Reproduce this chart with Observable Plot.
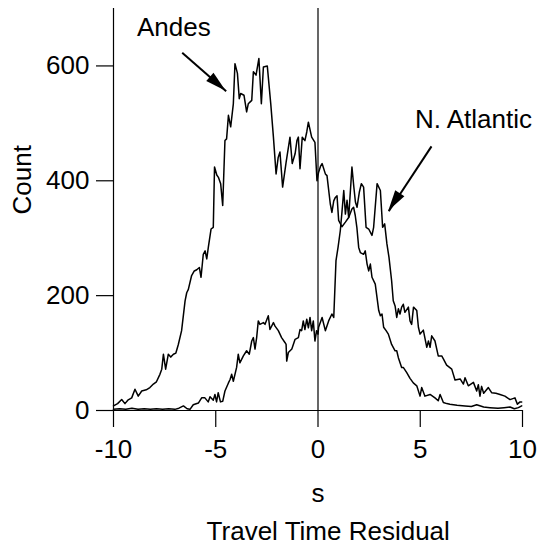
<!DOCTYPE html>
<html>
<head>
<meta charset="utf-8">
<script src="https://cdn.jsdelivr.net/npm/d3@7"></script>
<script src="https://cdn.jsdelivr.net/npm/@observablehq/plot@0.6"></script>
<style>
  html, body { margin: 0; padding: 0; background: #fff; }
</style>
</head>
<body>
<div id="chart"></div>
<script>
// Tick values
const xTicks = [-10, -5, 0, 5, 10];
const yTicks = [0, 200, 400, 600];
const seriesNames = ["Andes", "N. Atlantic"];

// Andes histogram (travel time residual, s  -> count)
const andesX = [-10.0,-9.8,-9.6,-9.44,-9.3,-9.11,-8.95,-8.79,-8.62,-8.4,-8.22,-8.05,-7.9,-7.73,-7.64,-7.56,-7.45,-7.32,-7.2,-7.07,-6.95,-6.83,-6.67,-6.5,-6.42,-6.34,-6.18,-6.05,-5.93,-5.8,-5.72,-5.61,-5.52,-5.44,-5.36,-5.23,-5.12,-5.06,-4.95,-4.87,-4.76,-4.66,-4.55,-4.47,-4.38,-4.27,-4.14,-4.06,-3.94,-3.85,-3.78,-3.62,-3.49,-3.41,-3.24,-3.16,-3.03,-2.89,-2.77,-2.67,-2.48,-2.31,-2.18,-2.05,-1.95,-1.86,-1.73,-1.56,-1.37,-1.26,-1.12,-1.03,-0.96,-0.88,-0.77,-0.64,-0.55,-0.47,-0.31,-0.15,-0.05,0.03,0.12,0.2,0.36,0.44,0.6,0.68,0.77,0.85,0.93,1.01,1.17,1.34,1.5,1.66,1.74,1.82,1.9,1.99,2.07,2.23,2.31,2.4,2.48,2.56,2.64,2.8,2.97,3.05,3.13,3.21,3.33,3.44,3.6,3.77,3.85,3.93,4.09,4.17,4.34,4.5,4.66,4.83,4.99,5.07,5.23,5.48,5.72,5.88,5.97,6.13,6.3,6.45,6.8,7.19,7.5,7.76,8.1,8.41,8.8,9.1,9.39,9.6,9.8,9.96];
const andesY = [8,12,19,12,18,22,37,25,34,36,40,46,50,63,72,98,72,98,93,98,100,115,139,191,205,211,235,243,245,249,232,272,278,264,285,316,319,424,410,406,395,357,470,473,514,494,534,604,587,543,552,549,520,534,540,590,584,613,534,598,600,534,476,412,440,450,389,432,476,430,447,470,476,421,476,470,485,502,476,467,400,415,425,430,412,409,360,345,365,371,374,331,320,328,336,351,354,340,319,284,275,272,278,255,243,255,232,220,174,165,168,145,139,133,115,104,104,92,75,75,66,56,48,43,25,40,25,28,22,17,28,14,12,11,9,8,7,10,6,5,4,5,6,3,5,8];

// N. Atlantic histogram
const atlX = [-10.0,-9.7,-9.4,-9.1,-8.8,-8.5,-8.2,-7.9,-7.6,-7.3,-7.0,-6.8,-6.58,-6.4,-6.26,-6.1,-5.85,-5.69,-5.53,-5.37,-5.28,-5.12,-5.04,-4.96,-4.88,-4.77,-4.66,-4.55,-4.38,-4.3,-4.22,-4.14,-3.98,-3.9,-3.82,-3.65,-3.49,-3.36,-3.24,-3.16,-3.08,-3.0,-2.92,-2.84,-2.67,-2.59,-2.43,-2.35,-2.18,-2.1,-1.94,-1.78,-1.61,-1.56,-1.53,-1.45,-1.28,-1.12,-0.96,-0.88,-0.8,-0.72,-0.64,-0.55,-0.47,-0.39,-0.31,-0.23,-0.15,-0.07,0.0,0.03,0.2,0.36,0.52,0.68,0.77,0.88,0.98,1.09,1.17,1.26,1.34,1.42,1.5,1.66,1.75,1.83,1.91,2.02,2.12,2.23,2.35,2.48,2.64,2.72,2.89,3.05,3.16,3.26,3.37,3.47,3.6,3.68,3.77,3.85,3.93,4.01,4.09,4.17,4.25,4.42,4.5,4.58,4.67,4.83,4.91,4.99,5.15,5.32,5.4,5.48,5.56,5.72,5.88,6.05,6.13,6.29,6.54,6.7,6.95,7.11,7.19,7.35,7.6,7.76,7.84,7.92,8.0,8.1,8.33,8.49,8.7,8.9,9.14,9.39,9.63,9.75,9.88,9.96];
const atlY = [2,3,2,4,2,3,2,3,2,3,2,4,8,3,2,10,13,22,22,15,24,18,28,15,31,15,16,34,48,54,63,51,75,98,83,95,104,98,121,127,107,127,156,150,153,150,165,141,153,147,139,127,118,115,86,101,107,124,127,141,139,156,141,159,144,162,139,156,121,139,133,145,162,139,156,168,162,261,284,313,345,383,342,366,336,424,390,363,354,380,395,389,319,316,305,319,395,383,319,325,290,267,226,191,182,162,177,168,180,185,171,180,156,150,180,174,145,133,140,110,121,110,130,121,95,95,90,79,72,53,55,46,57,43,49,34,45,25,42,30,40,31,30,28,25,19,22,11,15,15];

const andes = andesX.map((x, i) => ({x, y: andesY[i], series: seriesNames[0]}));
const atl = atlX.map((x, i) => ({x, y: atlY[i], series: seriesNames[1]}));

// Annotation arrows (data units): tail -> tip
const arrows = [
  {x1: -6.64, y1: 623, x2: -4.49, y2: 556},
  {x1: 5.55, y1: 460, x2: 3.46, y2: 347}
];
const labels = [
  {text: seriesNames[0], x: -8.85, y: 684},
  {text: seriesNames[1], x: 4.74, y: 524}
];

const font = "'Liberation Sans', Arial, Helvetica, sans-serif";
const fmt = d => String(d);

const plot = Plot.plot({
  width: 538,
  height: 546,
  marginLeft: 113,
  marginRight: 16,
  marginTop: 8,
  marginBottom: 136,
  style: {fontFamily: font, fontSize: "25px", color: "black", background: "white", overflow: "visible"},
  x: {domain: [-10, 10]},
  y: {domain: [0, 700]},
  marks: [
    Plot.axisX({ticks: xTicks, tickSize: 17, tickPadding: 12, tickFormat: fmt, label: null, fontSize: 26, strokeWidth: 1.2}),
    Plot.axisY({ticks: yTicks, tickSize: 17, tickPadding: 7, tickFormat: fmt, label: null, fontSize: 26, strokeWidth: 1.2}),
    Plot.ruleY([0], {stroke: "black", strokeWidth: 1.2}),
    Plot.ruleX([-10, 0], {stroke: "black", strokeWidth: 1.2}),
    Plot.line(andes, {x: "x", y: "y", stroke: "black", strokeWidth: 1.5, curve: "linear"}),
    Plot.line(atl, {x: "x", y: "y", stroke: "black", strokeWidth: 1.5, curve: "linear"}),
    Plot.link(arrows, {x1: "x1", y1: "y1", x2: "x2", y2: "y2", stroke: "black", strokeWidth: 2}),
    Plot.text(labels, {x: "x", y: "y", text: "text", textAnchor: "start", lineAnchor: "top", fontSize: 26, fill: "black"}),
    Plot.text(["Count"], {frameAnchor: "left", dx: -91, dy: 5, rotate: -90, fontSize: 26, fill: "black"}),
    Plot.text(["s"], {frameAnchor: "bottom", x: 0, dy: 73, lineAnchor: "top", fontSize: 26, fill: "black"}),
    Plot.text(["Travel Time Residual"], {frameAnchor: "bottom", x: 0.5, dy: 111, lineAnchor: "top", fontSize: 26, fill: "black"})
  ]
});

// Filled arrow heads, positioned via the plot's own scales
const sx = plot.scale("x"), sy = plot.scale("y");
const svg = d3.select(plot);
const headLen = 21, headHalf = 5.5;
for (const a of arrows) {
  const X1 = sx.apply(a.x1), Y1 = sy.apply(a.y1), X2 = sx.apply(a.x2), Y2 = sy.apply(a.y2);
  const dx = X2 - X1, dy = Y2 - Y1, L = Math.hypot(dx, dy);
  const ux = dx / L, uy = dy / L;
  const bx = X2 - ux * headLen, by = Y2 - uy * headLen;
  const pts = [[X2, Y2], [bx - uy * headHalf, by + ux * headHalf], [bx + uy * headHalf, by - ux * headHalf]];
  svg.append("path").attr("d", "M" + pts.map(p => p.join(",")).join("L") + "Z").attr("fill", "black");
}

document.getElementById("chart").appendChild(plot);
</script>
</body>
</html>
